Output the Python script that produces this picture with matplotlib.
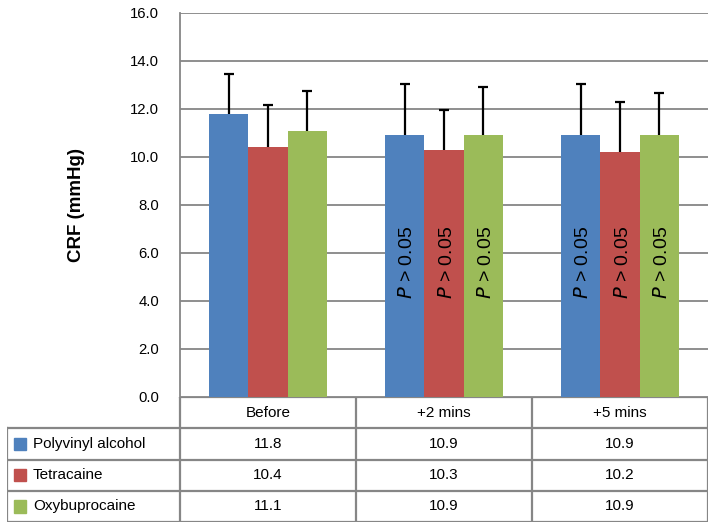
import matplotlib.pyplot as plt
import numpy as np

plt.rcParams['font.family'] = ['Liberation Sans', 'DejaVu Sans']

times = ['Before', '+2 mins', '+5 mins']
drugs = ['Polyvinyl alcohol', 'Tetracaine', 'Oxybuprocaine']
crf = [[11.8, 10.9, 10.9],
       [10.4, 10.3, 10.2],
       [11.1, 10.9, 10.9]]
sd = [[1.65, 2.15, 2.15],
      [1.75, 1.65, 2.1],
      [1.65, 2.0, 1.75]]
p_text = ['', 'P > 0.05', 'P > 0.05']
colors = ['#4F81BD', '#C0504D', '#9BBB59']
grid_c = '#868686'

fig = plt.figure(figsize=(7.16, 5.29), dpi=100)
ax = fig.add_axes([180/716, 132/529, 528/716, 384/529])

x = np.arange(len(times))
w = 0.224
for i in range(len(drugs)):
    xs = x + (i - 1) * w
    top = np.array(crf[i]) + np.array(sd[i])
    ax.bar(xs, crf[i], w, color=colors[i], zorder=2)
    # upper-only error bars
    ax.vlines(xs, crf[i], top, color='black', lw=1.6, zorder=3)
    ax.plot(xs, top, ls='none', marker='_', ms=7, mew=1.6, color='black', zorder=3)
    for j in range(len(times)):
        if p_text[j]:
            ax.text(xs[j] + 0.015, 5.6, r'$\it{P}$' + p_text[j][1:], rotation=90,
                    ha='center', va='center', fontsize=14, zorder=4)

ax.set_xlim(-0.5, 2.5)
ax.set_ylim(0, 16)
ax.set_yticks(np.arange(0, 16.1, 2))
ax.set_yticklabels(['%.1f' % v for v in np.arange(0, 16.1, 2)], fontsize=10.7)
ax.tick_params(axis='y', length=0, pad=15)
ax.set_xticks([])
ax.grid(axis='y', color=grid_c, lw=1.3, zorder=0)
for s in ['top', 'right', 'bottom']:
    ax.spines[s].set_visible(False)
ax.spines['left'].set_color(grid_c)
ax.spines['left'].set_linewidth(1.3)
ax.set_ylabel('CRF (mmHg)', fontsize=13.5, fontweight='bold')
ax.yaxis.set_label_coords(-0.18, 0.5)

# data table under the plot
lab_w = 173 / 176
tax = fig.add_axes([7/716, 7/529, 701/716, 125/529])
tax.set_xlim(-0.5 - lab_w, 2.5)
tax.set_ylim(4, 0)
tax.axis('off')
lw = 1.6
tax.plot([-0.5, 2.5], [0, 0], color=grid_c, lw=lw)
for r in range(1, 5):
    tax.plot([-0.5 - lab_w, 2.5], [r, r], color=grid_c, lw=lw)
for c in range(4):
    tax.plot([c - 0.5, c - 0.5], [0, 4], color=grid_c, lw=lw)
tax.plot([-0.5 - lab_w, -0.5 - lab_w], [1, 4], color=grid_c, lw=lw)
for j, t in enumerate(times):
    tax.text(j, 0.5, t, ha='center', va='center', fontsize=11)
for i, d in enumerate(drugs):
    tax.add_patch(plt.Rectangle((-0.5 - lab_w + 0.04, i + 1.5 - 0.2), 0.07, 0.4,
                                color=colors[i]))
    tax.text(-0.5 - lab_w + 0.148, i + 1.5, d, ha='left', va='center', fontsize=11)
    for j in range(len(times)):
        tax.text(j, i + 1.5, '%.1f' % crf[i][j], ha='center', va='center', fontsize=11)

fig.savefig('out.png', dpi=100)
